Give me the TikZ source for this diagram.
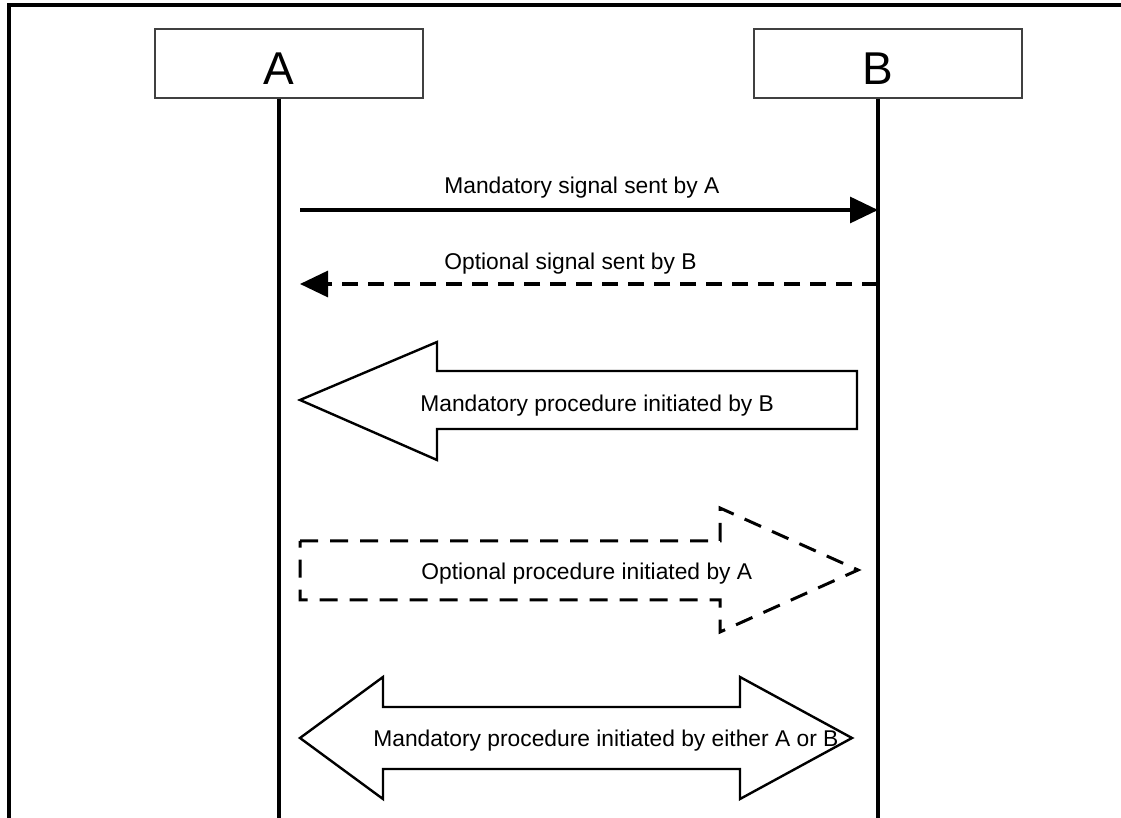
\documentclass[tikz,border=0pt]{standalone}
\usepackage{fontspec}
\setmainfont{Liberation Sans}
\usetikzlibrary{arrows.meta}
\tikzset{
entity/.style={draw=black!75, line width=0.6pt, minimum width=134pt, minimum height=34.5pt}, % the boxes of A and B
lifeline/.style={line width=1.6pt},
signal/.style={line width=1.6pt, -{Triangle[length=14pt,width=13pt]}}, % filled heads
optional/.style={dash pattern=on 8pt off 5pt},
procedure/.style={line width=1.2pt, line join=miter},
msgtext/.style={font=\fontsize{11.4}{13}\selectfont, anchor=base west, inner sep=0pt},
bigname/.style={font=\fontsize{23}{26}\selectfont, anchor=base, inner sep=0pt},
}

\begin{document}
\begin{tikzpicture}[x=0.5pt, y=-0.5pt]
\useasboundingbox (0,0) rectangle (1121,818);
% frame
\draw[line width=1.7pt] (9,818) -- (9,5) -- (1121,5);
% entities
\node[entity] (boxA) at (289,63.5) {};
\node[entity] (boxB) at (888,63.5) {};
\node[bigname] (A) at (279,85) {A};
\node[bigname] (B) at (878,85) {B};
\coordinate (endA) at (279,818);
\coordinate (endB) at (878,818);
\draw[lifeline] (boxA.south -| endA) -- (endA);
\draw[lifeline] (boxB.south -| endB) -- (endB);
% signals
\coordinate (s1) at (300,210);
\coordinate (s2) at (300,284);
\draw[signal] (s1) -- (s1 -| endB);
\draw[signal, optional] (s2 -| endB) -- (s2);
\node[msgtext] (t1) at (444,194) {Mandatory signal sent by A};
\node[msgtext] (t2) at (444,270) {Optional signal sent by B};
% procedures
\draw[procedure] (300,400) -- (437,342) -- (437,371) -- (857,371) -- (857,429) -- (437,429) -- (437,460) -- cycle;
\node[msgtext] (t3) at (420,412) {Mandatory procedure initiated by B};
\draw[procedure, line width=1.5pt, dash pattern=on 9pt off 6pt] (300,541) -- (720,541) -- (720,508) -- (858,570) -- (720,632) -- (720,600) -- (300,600) -- cycle;
\node[msgtext] (t4) at (421,580) {Optional procedure initiated by A};
\draw[procedure] (300,738) -- (383,677) -- (383,707) -- (740,707) -- (740,677) -- (852,738) -- (740,799) -- (740,769) -- (383,769) -- (383,799) -- cycle;
\node[msgtext] (t5) at (373,747) {Mandatory procedure initiated by either A or B};
\end{tikzpicture}
\end{document}
